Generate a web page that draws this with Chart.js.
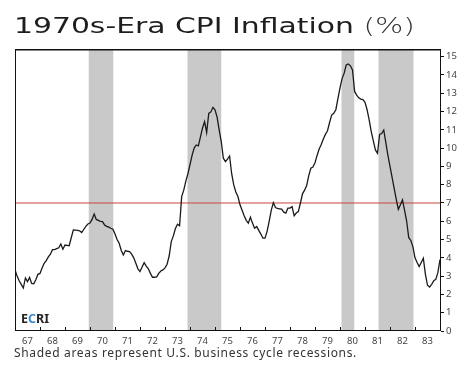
<!DOCTYPE html>
<html>
<head>
<meta charset="utf-8">
<script src="https://cdn.jsdelivr.net/npm/chart.js@4/dist/chart.umd.min.js"></script>
<style>
    body { margin: 0; background: #fff; }
    #page { position: relative; width: 468px; height: 371px; overflow: hidden; background: #fff; }
    #cpiChart { position: absolute; left: 0; top: 0; }
    #title {
        position: absolute; left: 14px; top: 16px; white-space: nowrap;
        font-family: "DejaVu Sans", sans-serif; font-size: 21px; line-height: 1;
        font-weight: 400; color: #1e1e1e; transform-origin: 0 0;
    }
    #title .pct { font-weight: 200; color: #333; }
    #note {
        position: absolute; left: 14px; top: 347px; white-space: nowrap;
        font-family: "Noto Sans", sans-serif; font-size: 12px; line-height: 1; color: #333;
    }
    #ecri {
        position: absolute; left: 21px; top: 313px; white-space: nowrap;
        font-family: "Noto Sans", sans-serif; font-size: 12.5px; line-height: 1;
        font-weight: 700; color: #232323;
    }
    #ecri .c { color: #3c8dcf; }
</style>
</head>
<body>
<div id="page">
    <canvas id="cpiChart" width="468" height="371"></canvas>
    <div id="title">1970s-Era CPI Inflation <span class="pct">(%)</span></div>
    <div id="ecri">E<span class="c">C</span>RI</div>
    <div id="note">Shaded areas represent U.S. business cycle recessions.</div>
</div>
<script>
// Datos: inflación interanual del IPC, mensual desde enero de 1967
const startYear = 1967;
const cpi1967 = [3.35, 3.0, 2.75, 2.55, 2.35, 2.9, 2.7, 2.93, 2.6, 2.58, 2.8, 3.1];
const cpi1968 = [3.15, 3.45, 3.7, 3.85, 4.05, 4.2, 4.45, 4.45, 4.5, 4.55, 4.76, 4.47];
const cpi1969 = [4.7, 4.68, 4.66, 5.1, 5.53, 5.52, 5.5, 5.48, 5.38, 5.55, 5.72, 5.85];
const cpi1970 = [5.9, 6.1, 6.4, 6.1, 6.05, 6.0, 5.98, 5.8, 5.72, 5.68, 5.62, 5.57];
const cpi1971 = [5.3, 5.0, 4.8, 4.4, 4.16, 4.4, 4.36, 4.34, 4.2, 4.0, 3.7, 3.4];
const cpi1972 = [3.25, 3.5, 3.74, 3.55, 3.4, 3.15, 2.94, 2.94, 2.96, 3.15, 3.28, 3.34];
const cpi1973 = [3.45, 3.65, 4.1, 4.89, 5.2, 5.6, 5.84, 5.75, 7.35, 7.7, 8.2, 8.6];
const cpi1974 = [9.1, 9.6, 10.0, 10.17, 10.12, 10.6, 11.1, 11.45, 10.85, 11.9, 11.98, 12.23];
const cpi1975 = [12.1, 11.7, 11.0, 10.36, 9.45, 9.26, 9.4, 9.57, 8.6, 7.99, 7.6, 7.35];
const cpi1976 = [6.9, 6.6, 6.3, 6.05, 5.9, 6.22, 5.9, 5.62, 5.71, 5.5, 5.3, 5.08];
const cpi1977 = [5.08, 5.45, 6.0, 6.6, 7.02, 6.75, 6.7, 6.68, 6.66, 6.5, 6.45, 6.72];
const cpi1978 = [6.72, 6.8, 6.3, 6.45, 6.53, 7.0, 7.5, 7.7, 7.95, 8.5, 8.9, 8.96];
const cpi1979 = [9.2, 9.6, 9.95, 10.2, 10.5, 10.75, 10.95, 11.4, 11.81, 11.9, 12.1, 12.7];
const cpi1980 = [13.3, 13.8, 14.1, 14.55, 14.6, 14.5, 14.27, 13.1, 12.9, 12.75, 12.68, 12.65];
const cpi1981 = [12.5, 12.1, 11.54, 10.9, 10.4, 9.9, 9.72, 10.75, 10.8, 10.99, 10.3, 9.6];
const cpi1982 = [9.0, 8.4, 7.8, 7.2, 6.65, 6.9, 7.17, 6.6, 6.0, 5.1, 4.95, 4.6];
const cpi1983 = [4.0, 3.75, 3.52, 3.75, 3.98, 3.1, 2.5, 2.4, 2.55, 2.75, 2.82, 3.2];
const cpi1984 = [3.9];

// Recesiones (inicio y fin en años decimales)
const recessionStarts = [1969.95, 1973.9, 1980.06, 1981.54];
const recessionEnds = [1970.93, 1975.25, 1980.57, 1982.94];

// Etiquetas del eje x y línea de referencia
const yearLabels = ['67', '68', '69', '70', '71', '72', '73', '74', '75', '76', '77', '78', '79', '80', '81', '82', '83'];
const referenceLevel = 7;

const cpiValues = [].concat(cpi1967, cpi1968, cpi1969, cpi1970, cpi1971, cpi1972, cpi1973,
    cpi1974, cpi1975, cpi1976, cpi1977, cpi1978, cpi1979, cpi1980, cpi1981, cpi1982, cpi1983, cpi1984);
const cpiPoints = cpiValues.map((v, i) => ({ x: startYear + i / 12, y: v }));

const xMax = 1984.04;

// Estira el título en horizontal para que ocupe lo mismo que en el original
function stretchTo(id, target) {
    var el = document.getElementById(id);
    var w = el.getBoundingClientRect().width;
    el.style.transform = 'scaleX(' + (target / w) + ')';
}
// Ajusta el ancho con un poco de espaciado entre letras
function spaceTo(id, target) {
    var el = document.getElementById(id);
    var w = el.getBoundingClientRect().width;
    el.style.letterSpacing = ((target - w) / el.textContent.length) + 'px';
}
stretchTo('title', 401);
spaceTo('note', 343);

// Sombreado de recesiones y marco del gráfico
const recessionPlugin = {
    id: 'recessions',
    beforeDatasetsDraw(chart) {
        const ctx = chart.ctx;
        const area = chart.chartArea;
        const x = chart.scales.x;
        ctx.save();
        ctx.fillStyle = '#c9c9c9';
        for (var i = 0; i < recessionStarts.length; i++) {
            const x0 = x.getPixelForValue(recessionStarts[i]);
            const x1 = x.getPixelForValue(recessionEnds[i]);
            ctx.fillRect(x0, area.top, x1 - x0, area.bottom - area.top);
        }
        ctx.restore();
    },
    afterDraw(chart) {
        const ctx = chart.ctx;
        const area = chart.chartArea;
        const x = chart.scales.x;
        ctx.save();
        ctx.strokeStyle = '#111';
        ctx.lineWidth = 1;
        ctx.strokeRect(Math.round(area.left) + 0.5, Math.round(area.top) + 0.5,
            Math.round(area.right - area.left) - 1, Math.round(area.bottom - area.top) - 1);
        // línea superior algo más gruesa
        ctx.beginPath();
        ctx.moveTo(area.left, Math.round(area.top) + 1);
        ctx.lineTo(area.right, Math.round(area.top) + 1);
        ctx.stroke();
        // marcas de año hacia dentro
        ctx.beginPath();
        for (var yr = startYear + 1; yr < xMax; yr++) {
            const px = Math.round(x.getPixelForValue(yr)) + 0.5;
            ctx.moveTo(px, area.bottom - 1);
            ctx.lineTo(px, area.bottom - 4);
        }
        ctx.stroke();
        ctx.restore();
    }
};

const config = {
    type: 'line',
    data: {
        datasets: [{
            label: 'CPI',
            data: cpiPoints,
            borderColor: '#1a1a1a',
            borderWidth: 1.3,
            pointRadius: 0,
            tension: 0,
            fill: false
        }, {
            label: 'Referencia',
            data: [{ x: startYear, y: referenceLevel }, { x: xMax, y: referenceLevel }],
            borderColor: '#c9443c',
            borderWidth: 1,
            pointRadius: 0,
            fill: false
        }]
    },
    options: {
        responsive: false,
        animation: false,
        devicePixelRatio: 1,
        layout: { padding: { left: 15, top: 49, right: 0, bottom: 0 } },
        plugins: { legend: { display: false }, tooltip: { enabled: false } },
        scales: {
            x: {
                type: 'linear',
                min: startYear,
                max: xMax,
                border: { display: false },
                grid: { display: false, drawTicks: false },
                afterBuildTicks: function(scale) {
                    scale.ticks = yearLabels.map((l, i) => ({ value: startYear + i + 0.5 }));
                },
                afterFit: function(scale) { scale.height = 40; },
                ticks: {
                    autoSkip: false,
                    maxRotation: 0,
                    padding: 5,
                    color: '#444',
                    font: { family: 'Noto Sans', size: 9.5 },
                    callback: function(value, index) { return yearLabels[index]; }
                }
            },
            y: {
                position: 'right',
                min: 0,
                max: 15.42,
                border: { display: false },
                grid: { drawOnChartArea: false, tickLength: 3, tickColor: '#111' },
                afterFit: function(scale) { scale.width = 27; },
                ticks: {
                    stepSize: 1,
                    includeBounds: false,
                    padding: 2,
                    color: '#444',
                    font: { family: 'Noto Sans', size: 9.5 }
                }
            }
        }
    },
    plugins: [recessionPlugin]
};

const ctx = document.getElementById('cpiChart').getContext('2d');
new Chart(ctx, config);
</script>
</body>
</html>
